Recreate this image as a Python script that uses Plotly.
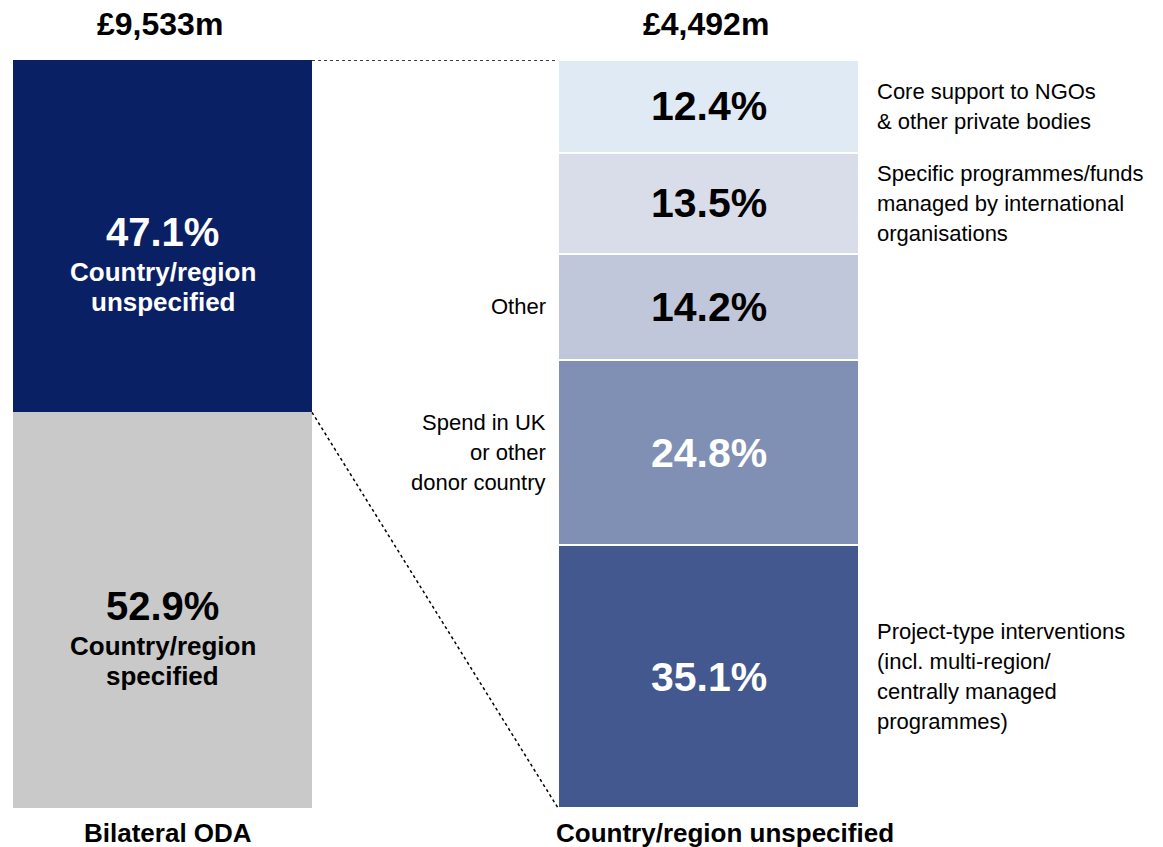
import plotly.graph_objects as go

# ---- data ----
left_total = "£9,533m"
right_total = "£4,492m"
left_title = "Bilateral ODA"
right_title = "Country/region unspecified"

left_labels = ["Country/region specified", "Country/region unspecified"]  # bottom -> top
left_values = [52.9, 47.1]
left_sub = [["Country/region", "specified"], ["Country/region", "unspecified"]]

right_labels = [
    ["Project-type interventions", "(incl. multi-region/", "centrally managed", "programmes)"],
    ["Spend in UK", "or other", "donor country"],
    ["Other"],
    ["Specific programmes/funds", "managed by international", "organisations"],
    ["Core support to NGOs", "& other private bodies"],
]  # bottom -> top
right_values = [35.1, 24.8, 14.2, 13.5, 12.4]
right_label_side = ["right", "left", "left", "right", "right"]

# ---- styles ----
FONT = "Liberation Sans, Arial, sans-serif"
left_colors = ["#c9c9c9", "#0a2064"]
left_text_colors = ["#000000", "#ffffff"]
right_colors = ["#42588e", "#8090b4", "#c1c7da", "#d9dde9", "#e0eaf5"]
right_text_colors = ["#ffffff", "#ffffff", "#000000", "#000000", "#000000"]

LX, LW = 162.5, 299   # left bar centre / width
RX, RW = 708.5, 301
LINE = 30             # px between text lines

fig = go.Figure()

for v, c in zip(left_values, left_colors):
    fig.add_trace(go.Bar(x=[LX], y=[v], width=[LW], marker=dict(color=c, line=dict(width=0)),
                         hoverinfo="skip", showlegend=False))
for v, c in zip(right_values, right_colors):
    fig.add_trace(go.Bar(x=[RX], y=[v], width=[RW], marker=dict(color=c, line=dict(width=2, color="white")),
                         hoverinfo="skip", showlegend=False))

ann = []
# left bar labels
cum = 0
for v, sub, tc in zip(left_values, left_sub, left_text_colors):
    mid = cum + v / 2
    ann.append(dict(x=LX, y=mid, text=f"{v:.1f}%", showarrow=False, xanchor="center", yanchor="middle",
                    yshift=4, font=dict(family=FONT, size=40, color=tc, weight="bold")))
    for i, line in enumerate(sub):
        ann.append(dict(x=LX, y=mid, text=line, showarrow=False, xanchor="center", yanchor="middle",
                        yshift=-36 - i * LINE, font=dict(family=FONT, size=26, color=tc, weight="bold")))
    cum += v

# right bar labels
cum = 0
for v, lab, side, tc in zip(right_values, right_labels, right_label_side, right_text_colors):
    mid = cum + v / 2
    ann.append(dict(x=RX, y=mid, text=f"{v:.1f}%", showarrow=False, xanchor="center", yanchor="middle",
                    font=dict(family=FONT, size=41, color=tc, weight="bold")))
    n = len(lab)
    for i, line in enumerate(lab):
        ys = ((n - 1) / 2 - i) * LINE
        if side == "right":
            ann.append(dict(x=RX + RW / 2 + 16, y=mid, text=line, showarrow=False, xanchor="left",
                            yanchor="middle", yshift=ys, font=dict(family=FONT, size=22, color="#000000")))
        else:
            ann.append(dict(x=RX - RW / 2 - 10, y=mid, text=line, showarrow=False, xanchor="right",
                            yanchor="middle", yshift=ys, font=dict(family=FONT, size=22, color="#000000")))
    cum += v

# totals and titles
ann.append(dict(x=LX - 3, y=1, yref="paper", text=left_total, showarrow=False, yanchor="bottom", yshift=16,
                font=dict(family=FONT, size=32, color="#000", weight="bold")))
ann.append(dict(x=RX - 3, y=1, yref="paper", text=right_total, showarrow=False, yanchor="bottom", yshift=16,
                font=dict(family=FONT, size=32, color="#000", weight="bold")))
ann.append(dict(x=LX + 5, y=0, yref="paper", text=left_title, showarrow=False, yanchor="top", yshift=-8,
                font=dict(family=FONT, size=26, color="#000", weight="bold")))
ann.append(dict(x=RX + 16, y=0, yref="paper", text=right_title, showarrow=False, yanchor="top", yshift=-8,
                font=dict(family=FONT, size=26, color="#000", weight="bold")))

total_left = sum(left_values)
split = left_values[0]
shapes = [
    dict(type="line", xref="x", yref="y", x0=LX + LW / 2, y0=total_left, x1=RX - RW / 2, y1=100,
         line=dict(color="black", width=1.5, dash="dot")),
    dict(type="line", xref="x", yref="y", x0=LX + LW / 2, y0=split, x1=RX - RW / 2, y1=0,
         line=dict(color="black", width=1.5, dash="dot")),
]

fig.update_layout(
    barmode="stack",
    width=1163, height=847,
    margin=dict(l=0, r=0, t=60, b=39),
    paper_bgcolor="white", plot_bgcolor="white",
    xaxis=dict(range=[0, 1163], visible=False, fixedrange=True),
    yaxis=dict(range=[0, 100], visible=False, fixedrange=True),
    annotations=ann, shapes=shapes,
    font=dict(family=FONT),
)

fig.write_html("out.html", config={"displayModeBar": False},
               post_script="document.body.style.margin='0';")
